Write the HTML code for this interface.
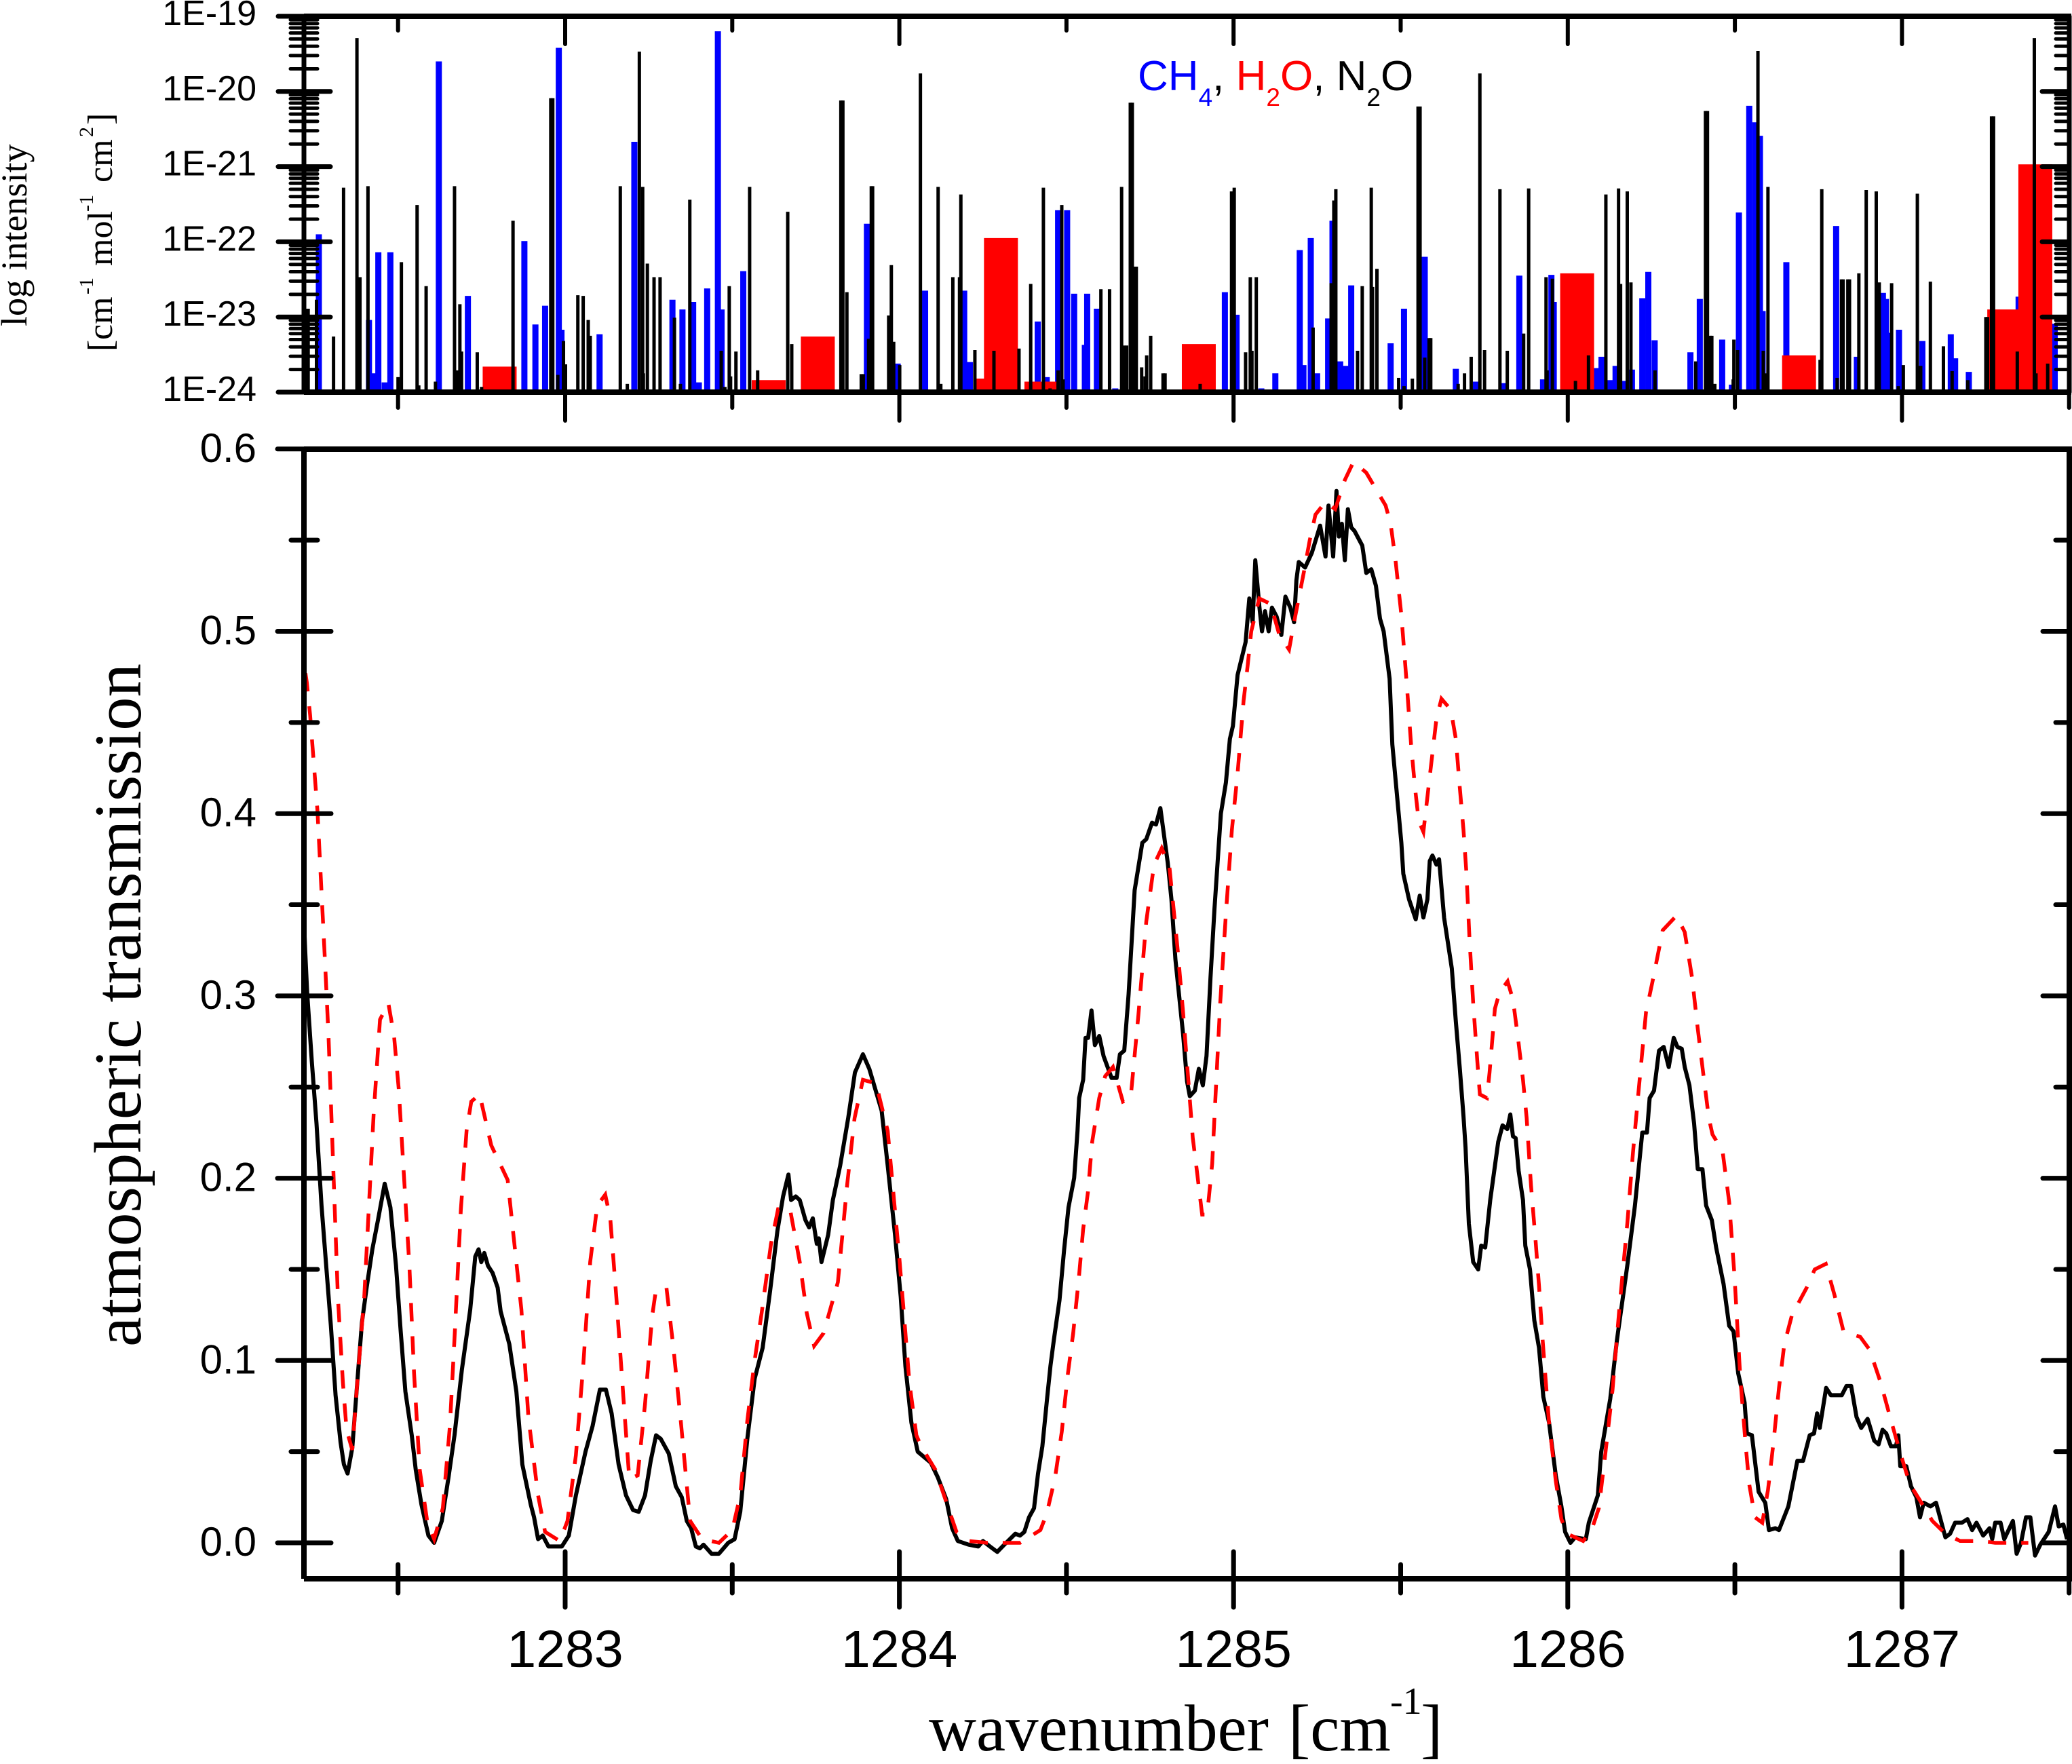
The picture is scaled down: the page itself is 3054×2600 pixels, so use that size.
<!DOCTYPE html>
<html lang="en">
<head>
<meta charset="utf-8">
<title>Atmospheric transmission and line intensities</title>
<style>
html,body{margin:0;padding:0;background:#fff;}
svg{display:block;}
.sans{font-family:"Liberation Sans",Arial,sans-serif;}
.serif{font-family:"Liberation Serif","Times New Roman",serif;}
</style>
</head>
<body>
<svg id="chart" xmlns="http://www.w3.org/2000/svg" width="3054" height="2600" viewBox="0 0 3054 2600">
  <rect x="0" y="0" width="3054" height="2600" fill="#fff"/>
  <g id="sticks"></g>
  <g id="curves"></g>
  <g id="axes"></g>
  <g id="labels"></g>

  <text class="serif" transform="translate(39,481) rotate(-90)" font-size="54" fill="#000">log intensity</text>
  <g class="serif" transform="translate(165,518) rotate(-90)" font-size="52" fill="#000">
    <text x="0" y="0">[</text><text x="17" y="0">cm</text>
    <text x="84" y="-28" font-size="30">-1</text>
    <text x="126" y="0">mol</text>
    <text x="206" y="-28" font-size="30">-1</text>
    <text x="249" y="0">cm</text>
    <text x="316" y="-28" font-size="30">2</text>
    <text x="334" y="0">]</text>
  </g>
  <text class="sans" x="1677" y="133" font-size="62"><tspan fill="#0000ff">CH</tspan><tspan fill="#0000ff" font-size="37" dy="23">4</tspan><tspan fill="#000" dy="-23">, </tspan><tspan fill="#ff0000">H</tspan><tspan fill="#ff0000" font-size="37" dy="23">2</tspan><tspan fill="#ff0000" dy="-23">O</tspan><tspan fill="#000">, N</tspan><tspan fill="#000" font-size="37" dy="23">2</tspan><tspan fill="#000" dy="-23">O</tspan></text>
  <text class="serif" transform="translate(207,978) rotate(-90)" text-anchor="end" font-size="98.8" fill="#000">atmospheric transmission</text>
  <g class="serif" font-size="97" fill="#000">
    <text x="1369" y="2580">wavenumber</text>
    <text x="1899" y="2580">[cm</text>
    <text x="2049" y="2526" font-size="56">-1</text>
    <text x="2094" y="2580">]</text>
  </g>
</svg>
<script>
// Upper panel: line positions (cm-1) and log10 intensities
const ch4Wavenumber = [
1282.263,1282.413,1282.430,1282.441,1282.460,1282.477,1282.622,1282.709,1282.878,1282.911,
1282.940,1282.981,1282.989,1283.103,1283.207,1283.321,1283.351,1283.383,1283.400,1283.425,
1283.457,1283.468,1283.533,1283.903,1283.995,1284.077,1284.194,1284.211,1284.414,1284.441,
1284.475,1284.502,1284.523,1284.555,1284.562,1284.591,1284.646,1284.974,1285.009,1285.083,
1285.125,1285.198,1285.209,1285.231,1285.250,1285.283,1285.296,1285.319,1285.336,1285.352,
1285.470,1285.510,1285.572,1285.665,1285.725,1285.810,1285.855,1285.926,1285.951,1285.958,
1286.084,1286.101,1286.127,1286.143,1286.170,1286.192,1286.223,1286.241,1286.260,1286.367,
1286.395,1286.462,1286.491,1286.512,1286.543,1286.561,1286.575,1286.583,1286.654,1286.803,
1286.865,1286.943,1286.952,1286.956,1286.991,1287.061,1287.146,1287.159,1287.200,1287.349,
1287.457];
const ch4LogIntensity = [
-21.90,-23.04,-23.75,-22.14,-23.87,-22.14,-19.60,-22.72,-21.99,-23.10,
-22.85,-19.42,-23.17,-23.23,-20.67,-22.77,-22.90,-22.80,-23.87,-22.62,
-19.20,-22.90,-22.39,-21.76,-23.62,-22.65,-22.65,-23.60,-23.06,-23.80,
-21.58,-21.58,-22.69,-23.37,-22.69,-22.89,-23.95,-22.67,-22.97,-23.95,
-23.75,-22.11,-23.64,-21.95,-23.75,-23.02,-21.72,-23.59,-23.65,-22.58,
-23.35,-22.89,-22.20,-23.69,-23.86,-23.88,-22.45,-23.83,-22.44,-22.80,
-23.68,-23.53,-23.84,-23.65,-23.85,-23.70,-22.75,-22.40,-23.31,-23.47,
-22.76,-23.30,-23.90,-21.61,-20.19,-20.41,-20.59,-22.92,-22.27,-21.79,
-23.53,-22.68,-22.76,-23.21,-23.17,-23.32,-23.23,-23.55,-23.73,-22.73,
-23.09];
const h2oWavenumber = [1282.804,1283.609,1283.756,1284.281,1284.304,1284.425,1284.896,1286.028,1286.692,1287.306,1287.399];
const h2oLogIntensity = [-23.66,-23.84,-23.26,-23.82,-21.95,-23.86,-23.36,-22.42,-23.51,-22.90,-20.97];
const n2oWavenumber = [
1282.225,1282.231,1282.256,1282.307,1282.337,1282.377,1282.380,1282.386,1282.410,1282.500,
1282.510,1282.557,1282.562,1282.584,1282.612,1282.669,1282.676,1282.685,1282.690,1282.737,
1282.750,1282.844,1282.957,1282.963,1282.978,1282.995,1283.001,1283.038,1283.054,1283.069,
1283.075,1283.165,1283.186,1283.222,1283.232,1283.234,1283.246,1283.266,1283.284,1283.327,
1283.345,1283.373,1283.467,1283.478,1283.491,1283.495,1283.511,1283.552,1283.576,1283.666,
1283.678,1283.825,1283.831,1283.843,1283.886,1283.892,1283.908,1283.916,1283.920,1283.968,
1283.972,1283.976,1283.983,1284.001,1284.063,1284.116,1284.124,1284.160,1284.180,1284.184,
1284.226,1284.283,1284.358,1284.393,1284.431,1284.451,1284.475,1284.486,1284.490,1284.603,
1284.629,1284.665,1284.671,1284.680,1284.691,1284.697,1284.705,1284.709,1284.725,1284.735,
1284.740,1284.752,1284.789,1284.795,1284.900,1284.994,1285.002,1285.036,1285.050,1285.055,
1285.068,1285.238,1285.292,1285.300,1285.306,1285.371,1285.385,1285.412,1285.416,1285.429,
1285.494,1285.510,1285.535,1285.552,1285.558,1285.572,1285.585,1285.590,1285.672,1285.691,
1285.711,1285.737,1285.751,1285.797,1285.819,1285.868,1285.883,1285.935,1285.938,1285.954,
1286.023,1286.062,1286.114,1286.152,1286.158,1286.178,1286.189,1286.261,1286.383,1286.412,
1286.418,1286.426,1286.431,1286.440,1286.495,1286.497,1286.508,1286.569,1286.585,1286.591,
1286.599,1286.755,1286.760,1286.806,1286.819,1286.824,1286.838,1286.843,1286.871,1286.893,
1286.923,1286.932,1286.969,1286.989,1287.004,1287.046,1287.056,1287.085,1287.124,1287.150,
1287.197,1287.251,1287.256,1287.268,1287.274,1287.345,1287.396,1287.401,1287.436];
const n2oLogIntensity = [
-22.89,-22.89,-22.77,-23.26,-21.28,-19.29,-22.47,-22.47,-21.26,-23.80,
-22.27,-21.51,-23.91,-22.59,-23.86,-21.26,-23.71,-22.83,-23.46,-23.47,
-23.93,-21.72,-20.09,-20.09,-23.77,-23.32,-23.63,-22.71,-22.72,-23.04,
-23.25,-21.26,-23.89,-19.47,-21.27,-23.75,-22.29,-22.47,-22.47,-23.01,
-23.89,-21.44,-23.45,-23.93,-22.59,-23.79,-23.46,-21.27,-23.71,-21.60,
-23.36,-20.12,-20.12,-22.67,-23.76,-23.76,-23.29,-21.26,-21.26,-22.98,
-22.98,-22.31,-23.33,-23.64,-19.76,-21.27,-23.89,-22.47,-22.47,-21.37,
-23.44,-23.45,-23.42,-22.56,-21.28,-23.95,-23.71,-21.51,-23.83,-22.63,
-22.63,-21.27,-23.38,-23.38,-20.15,-20.15,-22.33,-22.33,-23.67,-23.79,
-23.51,-23.25,-23.75,-23.75,-23.89,-21.33,-21.28,-23.47,-22.47,-23.45,
-22.47,-23.14,-22.55,-21.45,-21.30,-23.45,-22.59,-21.28,-22.60,-22.36,
-23.81,-23.92,-23.82,-20.20,-20.20,-23.54,-23.28,-23.28,-23.89,-23.75,
-23.53,-19.76,-23.44,-21.30,-23.45,-23.22,-21.29,-22.47,-23.71,-22.49,
-23.85,-23.51,-21.37,-21.29,-22.56,-21.33,-22.54,-23.71,-23.59,-20.26,
-20.26,-23.25,-23.25,-23.89,-23.83,-23.30,-23.44,-19.46,-23.45,-23.75,
-21.27,-23.57,-21.30,-23.81,-22.50,-22.50,-22.50,-22.50,-22.42,-21.31,
-21.33,-22.54,-22.55,-23.92,-23.64,-21.36,-23.65,-22.53,-23.39,-23.72,
-23.84,-23.00,-23.00,-20.33,-20.33,-23.46,-19.29,-23.75,-23.62];

// Lower panel: measured transmission
const measuredWavenumber = [
1282.219,1282.222,1282.228,1282.242,1282.256,1282.271,1282.285,1282.299,1282.313,1282.328,
1282.338,1282.349,1282.363,1282.378,1282.392,1282.406,1282.423,1282.441,1282.460,1282.477,
1282.494,1282.508,1282.522,1282.541,1282.553,1282.570,1282.591,1282.608,1282.631,1282.651,
1282.669,1282.691,1282.716,1282.731,1282.741,1282.749,1282.758,1282.769,1282.783,1282.798,
1282.807,1282.833,1282.854,1282.872,1282.897,1282.907,1282.919,1282.933,1282.950,1282.990,
1283.011,1283.032,1283.061,1283.082,1283.104,1283.122,1283.139,1283.160,1283.182,1283.203,
1283.220,1283.239,1283.256,1283.272,1283.286,1283.310,1283.331,1283.349,1283.364,1283.377,
1283.391,1283.403,1283.414,1283.438,1283.460,1283.488,1283.507,1283.524,1283.545,1283.567,
1283.591,1283.613,1283.635,1283.652,1283.668,1283.676,1283.690,1283.702,1283.719,1283.730,
1283.741,1283.753,1283.759,1283.767,1283.787,1283.801,1283.823,1283.847,1283.867,1283.891,
1283.910,1283.947,1283.965,1283.987,1284.004,1284.018,1284.036,1284.055,1284.094,1284.115,
1284.140,1284.158,1284.175,1284.207,1284.236,1284.250,1284.271,1284.293,1284.314,1284.347,
1284.361,1284.374,1284.388,1284.403,1284.415,1284.428,1284.442,1284.452,1284.462,1284.479,
1284.493,1284.506,1284.523,1284.533,1284.538,1284.550,1284.557,1284.565,1284.575,1284.585,
1284.598,1284.611,1284.635,1284.650,1284.660,1284.673,1284.686,1284.704,1284.727,1284.739,
1284.756,1284.768,1284.781,1284.803,1284.814,1284.826,1284.849,1284.861,1284.869,1284.884,
1284.896,1284.908,1284.919,1284.931,1284.943,1284.962,1284.977,1284.989,1284.998,1285.012,
1285.036,1285.047,1285.057,1285.065,1285.077,1285.085,1285.094,1285.105,1285.115,1285.129,
1285.143,1285.155,1285.170,1285.181,1285.188,1285.195,1285.214,1285.234,1285.259,1285.275,
1285.284,1285.298,1285.308,1285.315,1285.324,1285.333,1285.342,1285.352,1285.362,1285.385,
1285.397,1285.412,1285.426,1285.438,1285.449,1285.467,1285.475,1285.502,1285.508,1285.525,
1285.545,1285.557,1285.568,1285.580,1285.587,1285.595,1285.607,1285.615,1285.630,1285.653,
1285.665,1285.677,1285.688,1285.694,1285.704,1285.717,1285.732,1285.741,1285.753,1285.768,
1285.792,1285.805,1285.819,1285.828,1285.836,1285.844,1285.853,1285.866,1285.873,1285.887,
1285.900,1285.914,1285.927,1285.944,1285.964,1285.981,1285.992,1286.008,1286.022,1286.054,
1286.063,1286.090,1286.100,1286.127,1286.147,1286.178,1286.201,1286.223,1286.237,1286.245,
1286.258,1286.273,1286.287,1286.302,1286.317,1286.328,1286.341,1286.350,1286.364,1286.378,
1286.389,1286.403,1286.414,1286.431,1286.444,1286.466,1286.483,1286.496,1286.510,1286.529,
1286.536,1286.551,1286.571,1286.591,1286.602,1286.621,1286.632,1286.660,1286.687,1286.704,
1286.724,1286.737,1286.746,1286.754,1286.773,1286.787,1286.820,1286.834,1286.848,1286.864,
1286.878,1286.897,1286.917,1286.930,1286.942,1286.953,1286.967,1286.982,1286.989,1286.995,
1287.013,1287.027,1287.043,1287.054,1287.065,1287.085,1287.102,1287.130,1287.144,1287.159,
1287.179,1287.196,1287.210,1287.223,1287.243,1287.262,1287.270,1287.279,1287.295,1287.306,
1287.332,1287.343,1287.356,1287.371,1287.384,1287.398,1287.414,1287.439,1287.458,1287.469,
1287.483,1287.494];
const measuredTransmission = [
.339,.325,.302,.264,.230,.185,.152,.119,.081,.055,
.043,.038,.052,.088,.121,.140,.161,.178,.197,.184,
.152,.116,.083,.059,.040,.021,.004,0,.012,.036,
.059,.095,.128,.157,.161,.154,.159,.152,.148,.140,
.127,.109,.083,.043,.021,.014,.002,.004,-.002,-.002,
.004,.026,.050,.064,.084,.084,.071,.043,.026,.018,
.017,.026,.045,.059,.057,.049,.031,.025,.012,.008,
-.002,-.003,-.001,-.006,-.006,0,.002,.017,.057,.090,
.107,.138,.171,.190,.202,.188,.190,.188,.177,.173,
.178,.164,.167,.154,.169,.188,.207,.233,.258,.268,
.260,.237,.207,.169,.135,.097,.066,.050,.044,.036,
.024,.008,.001,-.001,-.002,.001,-.002,-.005,-.001,.005,
.004,.006,.014,.019,.038,.053,.079,.097,.111,.133,
.161,.184,.200,.226,.244,.254,.277,.277,.292,.273,
.278,.267,.255,.255,.268,.270,.301,.358,.384,.386,
.395,.394,.403,.373,.353,.320,.279,.253,.245,.248,
.260,.251,.267,.310,.348,.400,.417,.441,.448,.476,
.494,.518,.505,.539,.514,.500,.511,.500,.513,.508,
.498,.519,.513,.505,.528,.538,.535,.543,.558,.541,
.569,.541,.577,.552,.559,.539,.567,.557,.555,.547,
.532,.534,.525,.507,.500,.474,.438,.384,.367,.353,
.342,.355,.343,.353,.374,.377,.372,.375,.343,.315,
.286,.260,.234,.217,.175,.154,.150,.163,.162,.188,
.220,.229,.227,.235,.223,.222,.204,.188,.163,.150,
.122,.107,.080,.066,.037,.020,.006,0,.003,.002,
.011,.026,.050,.079,.111,.152,.185,.225,.225,.244,
.248,.270,.272,.261,.277,.272,.271,.261,.251,.230,
.205,.205,.185,.177,.162,.142,.119,.116,.093,.077,
.060,.059,.028,.022,.007,.008,.007,.020,.045,.045,
.059,.060,.071,.063,.085,.081,.081,.086,.086,.069,
.063,.068,.056,.054,.062,.060,.053,.053,.059,.042,
.042,.031,.025,.014,.022,.020,.022,.003,.005,.011,
.011,.013,.007,.011,.004,.008,.002,.011,.011,.002,
.012,-.006,0,.014,.014,-.007,-.001,.006,.020,.009,
.010,.002];

// Lower panel: modelled transmission
const modelWavenumber = [
1282.223,1282.227,1282.237,1282.259,1282.283,1282.292,1282.306,1282.320,1282.335,1282.346,
1282.363,1282.378,1282.399,1282.413,1282.427,1282.446,1282.471,1282.488,1282.502,1282.519,
1282.534,1282.548,1282.565,1282.588,1282.608,1282.634,1282.655,1282.669,1282.688,1282.705,
1282.719,1282.744,1282.779,1282.828,1282.847,1282.869,1282.890,1282.919,1282.940,1282.984,
1283.007,1283.032,1283.054,1283.075,1283.096,1283.120,1283.135,1283.153,1283.175,1283.192,
1283.217,1283.239,1283.260,1283.271,1283.303,1283.324,1283.346,1283.374,1283.410,1283.460,
1283.500,1283.524,1283.545,1283.567,1283.588,1283.616,1283.637,1283.673,1283.702,1283.723,
1283.745,1283.773,1283.816,1283.844,1283.866,1283.891,1283.930,1283.965,1284.001,1284.030,
1284.051,1284.065,1284.108,1284.143,1284.171,1284.207,1284.263,1284.361,1284.422,1284.441,
1284.466,1284.486,1284.503,1284.520,1284.537,1284.550,1284.564,1284.577,1284.598,1284.616,
1284.639,1284.669,1284.692,1284.715,1284.739,1284.762,1284.785,1284.808,1284.832,1284.849,
1284.867,1284.878,1284.889,1284.906,1284.921,1284.936,1284.943,1284.960,1284.977,1284.995,
1285.012,1285.030,1285.042,1285.053,1285.077,1285.111,1285.137,1285.166,1285.181,1285.211,
1285.228,1285.245,1285.275,1285.304,1285.333,1285.359,1285.397,1285.426,1285.455,1285.470,
1285.484,1285.502,1285.519,1285.531,1285.543,1285.554,1285.568,1285.583,1285.595,1285.607,
1285.622,1285.650,1285.665,1285.677,1285.688,1285.697,1285.706,1285.717,1285.729,1285.737,
1285.758,1285.766,1285.782,1285.796,1285.820,1285.836,1285.851,1285.866,1285.877,1285.890,
1285.904,1285.914,1285.924,1285.934,1285.944,1285.964,1285.981,1285.998,1286.046,1286.073,
1286.093,1286.113,1286.134,1286.154,1286.178,1286.195,1286.212,1286.234,1286.256,1286.284,
1286.325,1286.350,1286.372,1286.389,1286.405,1286.422,1286.433,1286.463,1286.483,1286.499,
1286.516,1286.532,1286.543,1286.560,1286.582,1286.599,1286.615,1286.632,1286.648,1286.671,
1286.715,1286.739,1286.772,1286.798,1286.825,1286.875,1286.903,1286.936,1286.969,1286.997,
1287.024,1287.058,1287.091,1287.130,1287.174,1287.235,1287.279,1287.378];
const modelTransmission = [
.477,.472,.454,.401,.313,.278,.207,.135,.088,.062,
.051,.088,.135,.185,.235,.287,.296,.278,.249,.197,
.152,.093,.040,.011,.002,.019,.064,.112,.183,.226,
.242,.246,.218,.199,.166,.128,.069,.026,.006,.001,
.012,.048,.097,.154,.185,.191,.178,.135,.078,.035,
.037,.076,.124,.138,.140,.107,.067,.012,.002,0,
.007,.026,.067,.100,.126,.164,.183,.183,.154,.126,
.108,.115,.143,.197,.233,.254,.252,.226,.154,.088,
.059,.053,.040,.021,.006,.001,0,0,.007,.016,
.036,.061,.091,.115,.145,.172,.192,.220,.244,.256,
.261,.242,.244,.289,.341,.372,.381,.371,.327,.291,
.248,.222,.206,.180,.180,.208,.234,.296,.345,.391,
.422,.462,.481,.500,.518,.515,.498,.490,.505,.533,
.550,.564,.571,.567,.583,.593,.587,.578,.569,.559,
.540,.509,.469,.438,.414,.396,.390,.414,.433,.452,
.463,.457,.441,.414,.391,.367,.331,.296,.265,.246,
.244,.258,.293,.302,.308,.298,.277,.254,.233,.196,
.165,.141,.113,.089,.066,.034,.013,.005,.001,.008,
.019,.050,.084,.128,.175,.214,.248,.291,.310,.336,
.344,.335,.310,.282,.258,.233,.224,.215,.187,.146,
.091,.054,.032,.014,.011,.029,.054,.085,.109,.125,
.140,.150,.153,.136,.116,.113,.106,.088,.066,.048,
.032,.022,.012,.005,.001,.001,0,0];

// Axis ticks and labels
const xMajorTicks = [1283,1284,1285,1286,1287];
const xMinorTicks = [1282.5,1283.5,1284.5,1285.5,1286.5,1287.5];
const xTickLabels = ['1283','1284','1285','1286','1287'];
const logDecades = [-24,-23,-22,-21,-20,-19];
const logDecadeLabels = ['1E-24','1E-23','1E-22','1E-21','1E-20','1E-19'];
const logMinorMantissas = [2,3,4,5,6,7,8,9];
const yMajorTicks = [0,0.1,0.2,0.3,0.4,0.5,0.6];
const yMinorTicks = [0.05,0.15,0.25,0.35,0.45,0.55];
const yTickLabels = ['0.0','0.1','0.2','0.3','0.4','0.5','0.6'];

// Axis functions
const NS = 'http://www.w3.org/2000/svg';
const plotLeft = 448, plotRight = 3050;
const upperTop = 24, upperBottom = 578;
const lowerTop = 662, lowerBottom = 2327;
const xScale = v => 833 + (v - 1283) * 492.6;
const logScale = l => upperBottom - (l + 24) * (upperBottom - upperTop) / 5;
const tScale = t => 2274 - t * 2687;

const sticks = document.getElementById('sticks');
const curves = document.getElementById('curves');
const axes = document.getElementById('axes');
const labels = document.getElementById('labels');

function makeLine(parent, x1, y1, x2, y2, width, color, cap) {
  const el = document.createElementNS(NS, 'line');
  el.setAttribute('x1', x1);
  el.setAttribute('y1', y1);
  el.setAttribute('x2', x2);
  el.setAttribute('y2', y2);
  el.setAttribute('stroke', color);
  el.setAttribute('stroke-width', width);
  el.setAttribute('stroke-linecap', cap);
  parent.appendChild(el);
  return el;
}
function makeText(parent, x, y, size, anchor, str) {
  const el = document.createElementNS(NS, 'text');
  el.setAttribute('x', x);
  el.setAttribute('y', y);
  el.setAttribute('font-size', size);
  el.setAttribute('text-anchor', anchor);
  el.setAttribute('class', 'sans');
  el.setAttribute('fill', '#000');
  el.textContent = str;
  parent.appendChild(el);
  return el;
}

// Sticks: methane first, then water, then nitrous oxide on top
for (let i = 0; i < ch4Wavenumber.length; i++) {
  const el = makeLine(sticks, xScale(ch4Wavenumber[i]), upperBottom, xScale(ch4Wavenumber[i]), logScale(ch4LogIntensity[i]), 9, '#0000ff', 'butt');
  
  
}
for (let i = 0; i < h2oWavenumber.length; i++) {
  const el = makeLine(sticks, xScale(h2oWavenumber[i]), upperBottom, xScale(h2oWavenumber[i]), logScale(h2oLogIntensity[i]), 50, '#ff0000', 'butt');
  
  
}
for (let i = 0; i < n2oWavenumber.length; i++) {
  const el = makeLine(sticks, xScale(n2oWavenumber[i]), upperBottom, xScale(n2oWavenumber[i]), logScale(n2oLogIntensity[i]), 5, '#000', 'butt');
  
  
}

// Curves
function pathFrom(xs, ys) {
  let d = '';
  for (let i = 0; i < xs.length; i++) {
    d += (i ? 'L' : 'M') + xScale(xs[i]).toFixed(1) + ' ' + tScale(ys[i]).toFixed(1);
  }
  return d;
}
const measuredPath = document.createElementNS(NS, 'path');
measuredPath.setAttribute('d', pathFrom(measuredWavenumber, measuredTransmission));
measuredPath.setAttribute('fill', 'none');
measuredPath.setAttribute('stroke', '#000');
measuredPath.setAttribute('stroke-width', '6');
measuredPath.setAttribute('stroke-linejoin', 'round');


curves.appendChild(measuredPath);

const modelPath = document.createElementNS(NS, 'path');
modelPath.setAttribute('d', pathFrom(modelWavenumber, modelTransmission));
modelPath.setAttribute('fill', 'none');
modelPath.setAttribute('stroke', '#ff0000');
modelPath.setAttribute('stroke-width', '5.5');
modelPath.setAttribute('stroke-dasharray', '27 22');


curves.appendChild(modelPath);

// Frames
const upperLeft = makeLine(axes, plotLeft, upperTop, plotLeft, upperBottom, 7, '#000', 'butt');


const upperRight = makeLine(axes, plotRight, upperTop, plotRight, upperBottom, 7, '#000', 'butt');


const upperTopLine = makeLine(axes, plotLeft, upperTop, plotRight + 3, upperTop, 8, '#000', 'butt');


const upperBottomLine = makeLine(axes, plotLeft, upperBottom, plotRight + 3, upperBottom, 8, '#000', 'butt');


const lowerLeft = makeLine(axes, plotLeft, lowerTop, plotLeft, lowerBottom, 8, '#000', 'butt');


const lowerRight = makeLine(axes, plotRight, lowerTop, plotRight, lowerBottom, 8, '#000', 'butt');


const lowerTopLine = makeLine(axes, plotLeft, lowerTop, plotRight + 4, lowerTop, 8, '#000', 'butt');


const lowerBottomLine = makeLine(axes, plotLeft, lowerBottom, plotRight + 4, lowerBottom, 8, '#000', 'butt');



// X ticks on both panels
xMajorTicks.forEach((v, i) => {
  const x = xScale(v);
  const top = makeLine(axes, x, upperTop, x, 65, 6, '#000', 'round');
  
  
  const mid = makeLine(axes, x, upperBottom, x, 620, 6, '#000', 'round');
  
  
  const low = makeLine(axes, x, 2287, x, 2369, 7, '#000', 'round');
  
  
  const lab = makeText(labels, x, 2457, 77, 'middle', xTickLabels[i]);
  
  
});
xMinorTicks.forEach(v => {
  const x = xScale(v);
  const top = makeLine(axes, x, upperTop, x, 45, 6, '#000', 'round');
  
  
  const mid = makeLine(axes, x, upperBottom, x, 601, 6, '#000', 'round');
  
  
  const low = makeLine(axes, x, 2306, x, 2348, 7, '#000', 'round');
  
  
});

// Upper log axis
logDecades.forEach((d, i) => {
  const y = logScale(d);
  const left = makeLine(axes, 410, y, 487, y, 7, '#000', 'round');
  
  
  const right = makeLine(axes, 3010, y, plotRight, y, 7, '#000', 'round');
  
  
  const lab = makeText(labels, 378, y + 13, 52, 'end', logDecadeLabels[i]);
  
  
  if (d < -19) {
    logMinorMantissas.forEach(m => {
      const my = logScale(d + Math.log10(m));
      const leftMinor = makeLine(axes, 428, my, 468, my, 5, '#000', 'round');
      
      
      const rightMinor = makeLine(axes, 3030, my, plotRight, my, 5, '#000', 'round');
      
      
    });
  }
});

// Lower transmission axis
yMajorTicks.forEach((t, i) => {
  const y = tScale(t);
  const left = makeLine(axes, 409, y, 488, y, 7, '#000', 'round');
  
  
  const right = makeLine(axes, 3011, y, plotRight, y, 7, '#000', 'round');
  
  
  const lab = makeText(labels, 378, y + 19, 60, 'end', yTickLabels[i]);
  
  
});
yMinorTicks.forEach(t => {
  const y = tScale(t);
  const left = makeLine(axes, 429, y, 468, y, 7, '#000', 'round');
  
  
  const right = makeLine(axes, 3030, y, plotRight, y, 7, '#000', 'round');
  
  
});
</script>
</body>
</html>
